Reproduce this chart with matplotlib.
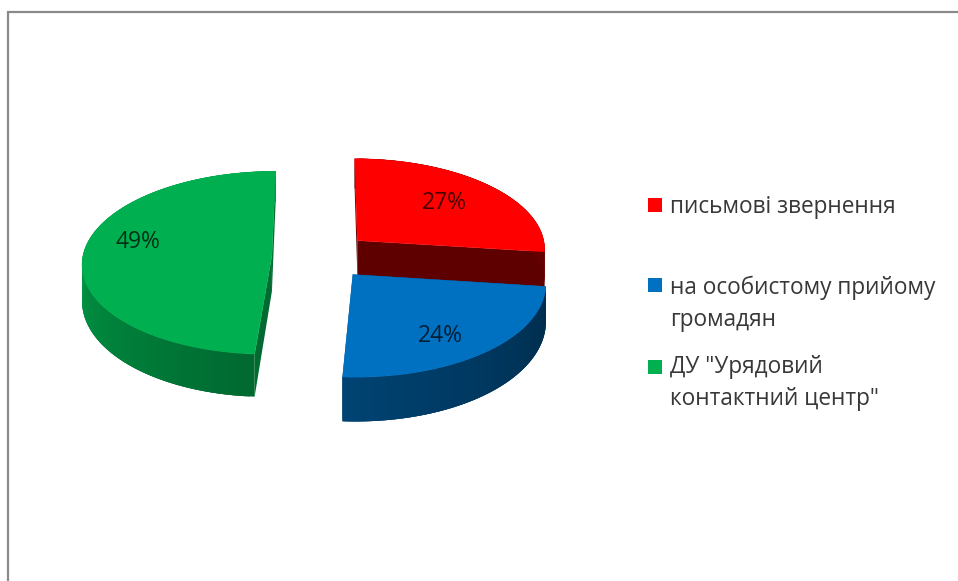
import numpy as np
import matplotlib
matplotlib.use('Agg')
import matplotlib.pyplot as plt
from matplotlib.patches import Polygon, Rectangle

plt.rcParams['font.family'] = ['Open Sans', 'DejaVu Sans']

# dados
categorias = ['письмові звернення', 'на особистому прийому\nгромадян', 'ДУ "Урядовий\nконтактний центр"']
valores = [27, 24, 49]
cores = ['#FF0000', '#0070C0', '#00B050']

# camera / geometria do pie (pixels)
cx, cy = 321, 256
rx, ry = 189, 91
persp = 0.082
explode = 0.26
prof = 36
rot_label = [(444, 203), (440, 336), (138, 242)]
leg_quad = [198, 278, 360]
leg_texto = [207, 304, 383]


def proj(u, v):
    s = 1 / (1 + persp * v)
    return cx + rx * u * s, cy - ry * v * s, prof * s * s


def topo(u, v):
    x, y, d = proj(u, v)
    return [x, y]


def base(u, v):
    x, y, d = proj(u, v)
    return [x, y + d]


def escurece(cor, f):
    rgb = np.array(matplotlib.colors.to_rgb(cor))
    return tuple(rgb * f)


fig = plt.figure(figsize=(9.58, 5.81), dpi=100)
ax = fig.add_axes([0, 0, 1, 1])
ax.set_xlim(0, 958)
ax.set_ylim(581, 0)
ax.set_axis_off()

# moldura
ax.plot([8, 8, 958], [581, 12, 12], color='#8a8a8a', lw=1.6, solid_joinstyle='miter')

fracoes = np.array(valores) / sum(valores) * 360
fim = np.cumsum(fracoes)
ini = fim - fracoes

# ordem de desenho: vermelho, verde, azul
for i in [0, 2, 1]:
    t = np.radians(np.linspace(ini[i], fim[i], 140))
    meio = np.radians((ini[i] + fim[i]) / 2)
    ou, ov = explode * np.sin(meio), explode * np.cos(meio)
    us = ou + np.sin(t)
    vs = ov + np.cos(t)

    # paredes radiais
    for k in [0, -1]:
        q = [topo(ou, ov), topo(us[k], vs[k]), base(us[k], vs[k]), base(ou, ov)]
        f = 0.37 if i == 0 else 0.6
        ax.add_patch(Polygon(q, closed=True, fc=escurece(cores[i], f), ec='none'))

    # parede curva com degrade (cada quad cobre o seguinte para nao deixar listras)
    for k in range(len(t) - 1):
        graus = np.degrees(t[k])
        f = np.interp(graus, [100, 185, 270, 360], [0.40, 0.60, 0.85, 0.85])
        c = escurece(cores[i], f)
        k2 = min(k + 3, len(t) - 1)
        q = [topo(us[k], vs[k]), topo(us[k2], vs[k2]), base(us[k2], vs[k2]), base(us[k], vs[k])]
        ax.add_patch(Polygon(q, closed=True, fc=c, ec='none'))

    # face de cima
    pts = [topo(ou, ov)] + [topo(a, b) for a, b in zip(us, vs)]
    ax.add_patch(Polygon(pts, closed=True, fc=cores[i], ec=cores[i], lw=0.3))

# rotulos
for i in range(3):
    ax.text(rot_label[i][0], rot_label[i][1], '%d%%' % valores[i], ha='center', va='center',
            fontsize=16.5, color='black', alpha=0.72)

# legenda
for i in range(3):
    ax.add_patch(Rectangle((648, leg_quad[i]), 14, 14, fc=cores[i], ec='none'))
    ax.text(670, leg_texto[i], categorias[i], ha='left', va='center', fontsize=16.3,
            color='#383838', linespacing=1.42)

fig.savefig('out.png', dpi=100)
